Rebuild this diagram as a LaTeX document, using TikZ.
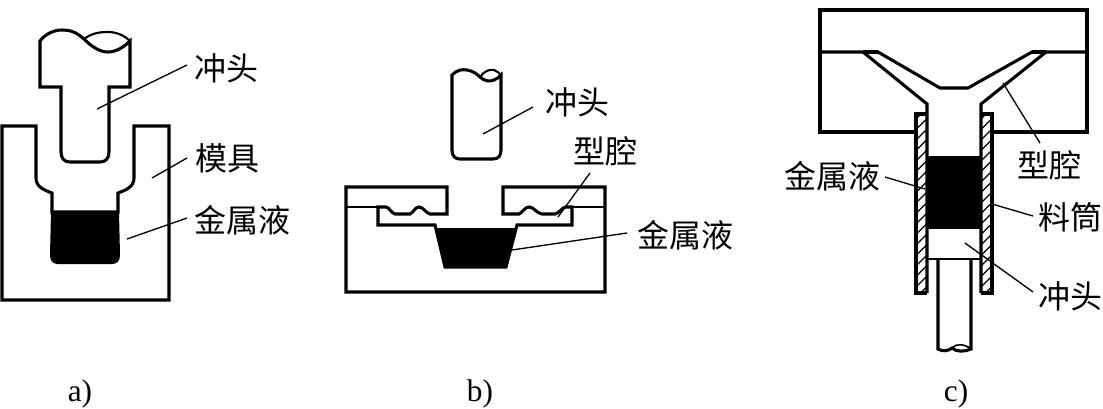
\documentclass[tikz,border=0pt]{standalone}
\usepackage{fontspec}
\setmainfont{Liberation Serif}
\newfontfamily\cjkf{Noto Sans CJK SC}
\tikzset{
  outl/.style={line width=2.3pt,line join=miter,black},
  thin outl/.style={line width=1.6pt,black},
  leader/.style={line width=1pt,black},
  cn/.style={font=\cjkf\fontsize{24pt}{26pt}\selectfont,inner sep=0pt,text=black},
  sub/.style={font=\fontsize{23.5pt}{25pt}\selectfont,inner sep=0pt,text=black},
  hatchl/.style={line width=1pt,black},
}
\begin{document}
\begin{tikzpicture}[x=0.75pt,y=-0.75pt]
\useasboundingbox (0,0) rectangle (1103,408);
\fill[white] (0,0) rectangle (1103,408);

% ---------- a) ----------
\draw[outl] (40,41) .. controls (46,33) and (55,30) .. (62,30)
  .. controls (72,30) and (77,33) .. (84,39)
  .. controls (92,47) and (100,52) .. (108,52)
  .. controls (116,52) and (124,47) .. (130,41)
  -- (130,87) -- (109,87) -- (109,152)
  .. controls (109,158) and (106,162) .. (100,162)
  -- (70,162) .. controls (64,162) and (61,158) .. (61,152)
  -- (61,87) -- (40,87) -- cycle;
\draw[thin outl] (84,39) .. controls (92,33) and (100,32) .. (108,32)
  .. controls (116,32) and (124,35) .. (130,41);
\draw[outl] (36,126) -- (2,126) -- (2,300) -- (169,300) -- (169,126) -- (134,126)
  -- (134,178) .. controls (134,187) and (126,190) .. (118,193)
  -- (118,212) -- (52,212) -- (52,193)
  .. controls (44,190) and (36,187) .. (36,178) -- cycle;
\fill[black] (51,212) -- (119,212) -- (120,255) .. controls (120,261) and (117,264) .. (112,264)
  -- (58,264) .. controls (53,264) and (50,261) .. (50,255) -- cycle;
\node[cn] (a1) at (226,68) {冲头};
\node[cn] (a2) at (227,158) {模具};
\node[cn] (a3) at (242,220) {金属液};
\coordinate (a1p) at (97,109); \coordinate (a1e) at (187,65);
\coordinate (a2p) at (152,178); \coordinate (a2e) at (187,158);
\coordinate (a3p) at (127,239); \coordinate (a3e) at (187,218);
\draw[leader] (a1p) -- (a1e);
\draw[leader] (a2p) -- (a2e);
\draw[leader] (a3p) -- (a3e);
\node[sub] (la) at (80,394) {a)};

% ---------- b) ----------
\draw[outl] (452,75) .. controls (457,70) and (462,69) .. (467,70)
  .. controls (473,71) and (477,74) .. (480,77)
  .. controls (484,81) and (490,82) .. (494,80) .. controls (497,79) and (499,77) .. (501,75)
  -- (501,150) .. controls (501,156) and (498,159) .. (493,159)
  -- (460,159) .. controls (455,159) and (452,156) .. (452,150) -- cycle;
\draw[thin outl] (480,77) .. controls (484,71) and (490,69) .. (494,70) .. controls (497,71) and (499,73) .. (501,75);
% upper plates
\draw[outl] (447,187) -- (346,187) -- (346,292) -- (605,292) -- (605,187) -- (503,187)
  -- (503,214) -- (519,214) .. controls (523,212) and (525,207) .. (529,207)
  .. controls (534,207) and (536,213) .. (542,214) -- (555,214)
  .. controls (560,213) and (562,207) .. (566,207) -- (572,207) -- (572,225) -- (517,225)
  -- (506,267) -- (445,267) -- (435,225) -- (378,225) -- (378,207) -- (386,207)
  .. controls (389,207) and (391,213) .. (395,214) -- (410,214)
  .. controls (413,213) and (415,207) .. (419,207)
  .. controls (423,207) and (426,213) .. (430,214) -- (447,214) -- cycle;
\draw[thin outl] (346,207) -- (378,207);
\draw[thin outl] (572,207) -- (605,207);
\fill[black] (436,228) -- (516,228) -- (506,267) -- (445,267) -- cycle;
\node[cn] (b1) at (577,102) {冲头};
\node[cn] (b2) at (605,151) {型腔};
\node[cn] (b3) at (685,235) {金属液};
\coordinate (b1p) at (483,134); \coordinate (b1e) at (533,107);
\coordinate (b2p) at (558,217); \coordinate (b2e) at (590,173);
\coordinate (b3p) at (512,250); \coordinate (b3e) at (627,233);
\draw[leader] (b1p) -- (b1e);
\draw[leader] (b2p) -- (b2e);
\draw[leader] (b3p) -- (b3e);
\node[sub] (lb) at (480,394) {b)};

% ---------- c) ----------
\begin{scope}
  \clip (917,115) rectangle (926,292);
  \foreach \i in {0,...,18} \draw[hatchl] (905,{130+\i*10.5}) -- (935,{100+\i*10.5});
\end{scope}
\begin{scope}
  \clip (982,115) rectangle (991,292);
  \foreach \i in {0,...,18} \draw[hatchl] (970,{130+\i*10.5}) -- (1000,{100+\i*10.5});
\end{scope}
\draw[outl] (916,132) -- (820,132) -- (820,10) -- (1087,10) -- (1087,132) -- (992,132);
\draw[outl] (820,52) -- (878,52) -- (940,88) -- (968,88) -- (1032,52) -- (1087,52);
\draw[outl] (863,52) -- (927,104) -- (927,293);
\draw[outl] (1046,52) -- (981,104) -- (981,293);
\draw[outl] (878,52) -- (863,52);
\draw[outl] (1032,52) -- (1046,52);
\draw[outl] (927,114) -- (916,114) -- (916,293) -- (927,293);
\draw[outl] (981,114) -- (992,114) -- (992,293) -- (981,293);
\fill[black] (927,156) rectangle (981,229);
\draw[thin outl] (927,259) -- (981,259);
\draw[outl] (938,259) -- (938,349) .. controls (943,352) and (948,351) .. (952,348)
  .. controls (956,352) and (965,352) .. (971,349) -- (971,259);
\draw[line width=1.2pt] (952,348) .. controls (956,343) and (965,344) .. (971,349);
\node[cn] (c1) at (832,176) {金属液};
\node[cn] (c2) at (1049,165) {型腔};
\node[cn] (c3) at (1070,217) {料筒};
\node[cn] (c4) at (1070,296) {冲头};
\coordinate (c1p) at (925,189); \coordinate (c1e) at (885,177);
\coordinate (c2p) at (1003,83); \coordinate (c2e) at (1040,143);
\coordinate (c3p) at (992,204); \coordinate (c3e) at (1033,216);
\coordinate (c4p) at (965,243); \coordinate (c4e) at (1033,292);
\draw[leader] (c1p) -- (c1e);
\draw[leader] (c2p) -- (c2e);
\draw[leader] (c3p) -- (c3e);
\draw[leader] (c4p) -- (c4e);
\node[sub] (lc) at (956,394) {c)};
\end{tikzpicture}
\end{document}
